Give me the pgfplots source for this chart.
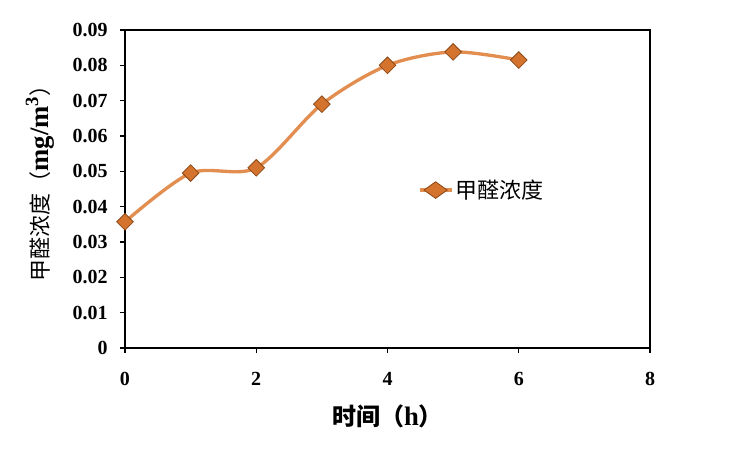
\documentclass[border=0pt]{standalone}
\usepackage{pgfplots}
\pgfplotsset{compat=1.18}
\usepackage{fontspec}
\setmainfont{Liberation Serif}
\newfontfamily\cjk{Noto Sans CJK SC}
\definecolor{linec}{RGB}{226,142,80}
\definecolor{markf}{RGB}{212,115,45}
\definecolor{markd}{RGB}{140,72,22}
\begin{document}
\begin{tikzpicture}
\begin{axis}[
  scale only axis,
  width=393.75pt, height=238.5pt,
  xmin=0, xmax=8, ymin=0, ymax=0.09,
  scaled y ticks=false, scaled x ticks=false,
  xtick={0,2,4,6,8}, xticklabels={0,2,4,6,8},
  ytick={0,0.01,0.02,0.03,0.04,0.05,0.06,0.07,0.08,0.09},
  yticklabels={0,0.01,0.02,0.03,0.04,0.05,0.06,0.07,0.08,0.09},
  tick align=outside, major tick length=3.5pt,
  xtick pos=bottom, ytick pos=left,
  tick style={black, line width=0.8pt},
  axis line style={line width=0.8pt},
  ticklabel style={font=\fontsize{15}{17}\selectfont\bfseries},
  xticklabel style={yshift=-11pt},
  yticklabel style={xshift=-6pt},
  xlabel={{\cjk\bfseries 时间（}{\fontsize{20}{22}\selectfont\bfseries h}{\cjk\bfseries ）}},
  ylabel={{\cjk 甲醛浓度（}{\fontsize{20}{22}\selectfont\bfseries mg/m\textsuperscript{3}}{\cjk ）}},
  label style={font=\fontsize{16.5}{18}\selectfont},
  xlabel style={at={(axis description cs:0.5,-0.215)}, anchor=center, font=\fontsize{18}{20}\selectfont},
  ylabel style={at={(axis description cs:-0.162,0.535)}, anchor=center},
  legend style={at={(axis cs:4.4,0.0447)}, anchor=west, draw=none, fill=none,
    font=\fontsize{16.5}{18}\selectfont\cjk},
  legend cell align=left,
  legend image post style={xscale=1.4},
]
\addplot[color=linec, line width=2.5pt, smooth, tension=0.5,
  mark=square*, mark size=4.4pt,
  mark options={rotate=45, fill=markf, draw=markd, line width=0.6pt}]
  coordinates {(0,0.0357) (1,0.0495) (2,0.0510) (3,0.0690) (4,0.0800) (5,0.0838) (6,0.0815)};
\addlegendentry{甲醛浓度}
\end{axis}
\useasboundingbox (-93.75pt,-76.5pt) rectangle (468.75pt,261pt);
\end{tikzpicture}
\end{document}
